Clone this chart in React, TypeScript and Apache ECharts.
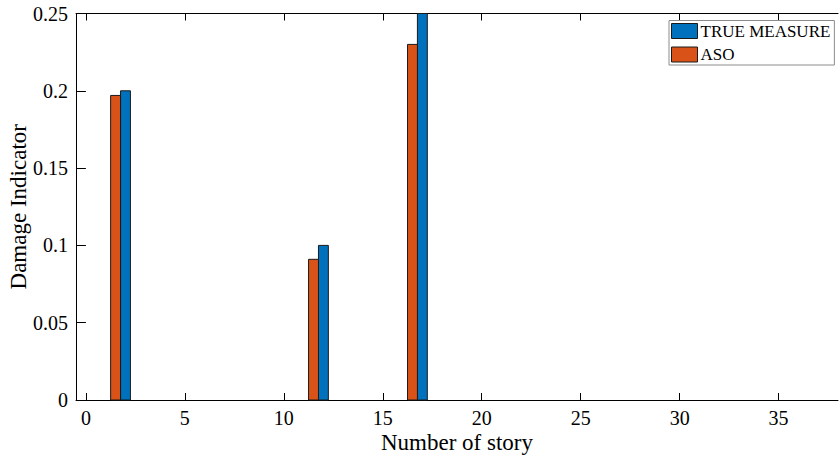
import React, { useEffect, useRef } from "react";
import * as echarts from "echarts";

const seriesNames = ["TRUE MEASURE", "ASO"];
const seriesColors = ["#0072BD", "#D95319"];
const trueStories = [2, 12, 17];
const trueValues = [0.2, 0.1, 0.25];
const asoStories = [1.5, 11.5, 16.5];
const asoValues = [0.197, 0.091, 0.23];
const barWidthUnits = 0.5;
const xTicks = [0, 5, 10, 15, 20, 25, 30, 35];
const xMin = -0.5;
const xMax = 38;
const yMin = 0;
const yMax = 0.25;
const yInterval = 0.05;

const FONT = "Liberation Serif";
const EDGE = "#1a1a1a";

function makeRender(fill: string) {
  return (params: any, api: any) => {
    const x = api.value(0);
    const y = api.value(1);
    const p0 = api.coord([x - barWidthUnits / 2, 0]);
    const p1 = api.coord([x + barWidthUnits / 2, y]);
    return {
      type: "rect",
      shape: { x: p0[0], y: p1[1], width: p1[0] - p0[0], height: p0[1] - p1[1] },
      style: { fill, stroke: EDGE, lineWidth: 1 },
    };
  };
}

export default function App() {
  const ref = useRef<HTMLDivElement>(null);
  useEffect(() => {
    if (!ref.current) return;
    const chart = echarts.init(ref.current, undefined, { renderer: "svg" });
    const tickCommon = { inside: true, length: 7, lineStyle: { color: "#000", width: 1 } };
    const option: any = {
      animation: false,
      backgroundColor: "#fff",
      textStyle: { fontFamily: FONT, color: "#000" },
      grid: { left: 76, right: 1, top: 13.5, bottom: 62, containLabel: false, outerBoundsMode: "none" },
      legend: {
        data: seriesNames.map((n, i) => ({
          name: n,
          icon: "rect",
          itemStyle: { color: seriesColors[i], borderColor: EDGE, borderWidth: 1 },
        })),
        orient: "vertical",
        left: 669,
        top: 20.5,
        padding: [2, 4, 2, 2],
        itemGap: 6.5,
        itemWidth: 26,
        itemHeight: 15,
        backgroundColor: "#fff",
        borderColor: "#8c8c8c",
        borderWidth: 1,
        borderRadius: 0,
        textStyle: { fontFamily: FONT, fontSize: 17, color: "#000", padding: [0, 0, 0, -2] },
      },
      xAxis: [
        {
          type: "value",
          position: "bottom",
          min: xMin,
          max: xMax,
          name: "Number of story",
          nameLocation: "middle",
          nameGap: 31,
          nameMoveOverlap: false,
          nameTextStyle: { fontFamily: FONT, fontSize: 23, color: "#000" },
          axisLine: { show: true, onZero: false, lineStyle: { color: "#000", width: 1 } },
          axisTick: { ...tickCommon, customValues: xTicks },
          axisLabel: { customValues: xTicks, fontFamily: FONT, fontSize: 20, color: "#000", margin: 8 },
          splitLine: { show: false },
        },
        {
          type: "value",
          position: "top",
          min: xMin,
          max: xMax,
          axisLine: { show: true, onZero: false, lineStyle: { color: "#000", width: 1 } },
          axisTick: { ...tickCommon, customValues: xTicks },
          axisLabel: { show: false },
          splitLine: { show: false },
        },
      ],
      yAxis: [
        {
          type: "value",
          position: "left",
          min: yMin,
          max: yMax,
          interval: yInterval,
          name: "Damage Indicator",
          nameLocation: "middle",
          nameGap: 46,
          nameMoveOverlap: false,
          nameTextStyle: { fontFamily: FONT, fontSize: 23, color: "#000" },
          axisLine: { show: true, onZero: false, lineStyle: { color: "#000", width: 1 } },
          axisTick: tickCommon,
          axisLabel: { fontFamily: FONT, fontSize: 20, color: "#000", margin: 8 },
          splitLine: { show: false },
        },
        {
          type: "value",
          position: "right",
          min: yMin,
          max: yMax,
          interval: yInterval,
          axisLine: { show: false },
          axisTick: tickCommon,
          axisLabel: { show: false },
          splitLine: { show: false },
        },
      ],
      series: [
        {
          name: seriesNames[0],
          type: "custom",
          xAxisIndex: 0,
          yAxisIndex: 0,
          itemStyle: { color: seriesColors[0] },
          encode: { x: 0, y: 1 },
          renderItem: makeRender(seriesColors[0]),
          data: trueStories.map((s, i) => [s, trueValues[i]]),
        },
        {
          name: seriesNames[1],
          type: "custom",
          xAxisIndex: 0,
          yAxisIndex: 0,
          itemStyle: { color: seriesColors[1] },
          encode: { x: 0, y: 1 },
          renderItem: makeRender(seriesColors[1]),
          data: asoStories.map((s, i) => [s, asoValues[i]]),
        },
      ],
    };
    chart.setOption(option);
    return () => chart.dispose();
  }, []);
  return (
    <div
      ref={ref}
      style={{ position: "fixed", left: 0, top: 0, width: 839, height: 462, background: "#fff" }}
    />
  );
}
